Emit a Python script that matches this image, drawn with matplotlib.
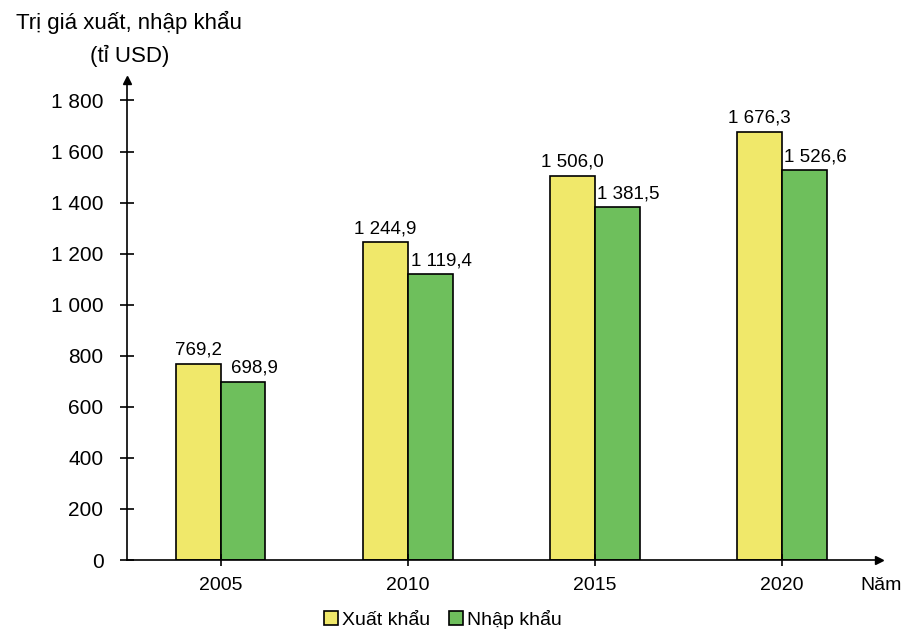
import numpy as np
import matplotlib
matplotlib.use('Agg')
import matplotlib.pyplot as plt

plt.rcParams['font.family'] = ['Liberation Sans', 'DejaVu Sans']

years = ['2005', '2010', '2015', '2020']
xuat_khau = [769.2, 1244.9, 1506.0, 1676.3]
nhap_khau = [698.9, 1119.4, 1381.5, 1526.6]
yticks = [0, 200, 400, 600, 800, 1000, 1200, 1400, 1600, 1800]


def fmt(v, dec=True):
    s = f'{v:,.1f}' if dec else f'{v:,.0f}'
    return s.replace(',', ' ').replace('.', ',')


fig = plt.figure(figsize=(9.04, 6.35), dpi=100)
ax = fig.add_axes([0.1405, 0.118, 0.832, 0.756])

x = np.arange(len(years))
w = 0.24
b1 = ax.bar(x - w / 2, xuat_khau, w, color='#F0E86A', edgecolor='black', linewidth=1.2, label='Xuất khẩu')
b2 = ax.bar(x + w / 2, nhap_khau, w, color='#6EBF5C', edgecolor='black', linewidth=1.2, label='Nhập khẩu')

for i in range(len(years)):
    ax.text(x[i] - w / 2, xuat_khau[i] + 20, fmt(xuat_khau[i]), ha='center', va='bottom', fontsize=13.5)
    ax.text(x[i] + w / 2 + 0.06, nhap_khau[i] + 20, fmt(nhap_khau[i]), ha='center', va='bottom', fontsize=13.5)

ax.set_xlim(-0.5, 3.52)
ax.set_ylim(0, 1880)
ax.set_yticks(yticks)
ax.set_yticklabels([fmt(v, False) for v in yticks], fontsize=15)
ax.set_xticks(x)
ax.set_xticklabels(years, fontsize=14)
ax.tick_params(axis='y', direction='inout', length=10, width=1.2, pad=12)
ax.tick_params(axis='x', direction='inout', length=8, width=1.2, pad=8)

for s in ['top', 'right']:
    ax.spines[s].set_visible(False)
ax.spines['left'].set_linewidth(1.2)
ax.spines['bottom'].set_linewidth(1.2)
ax.plot(1, 0, '>k', transform=ax.transAxes, clip_on=False, markersize=6)
ax.plot(0, 1, '^k', transform=ax.transAxes, clip_on=False, markersize=6)

fig.text(0.143, 0.965, 'Trị giá xuất, nhập khẩu', ha='center', va='center', fontsize=16)
fig.text(0.143, 0.912, '(tỉ USD)', ha='center', va='center', fontsize=16)
fig.text(0.975, 0.078, 'Năm', ha='center', va='center', fontsize=14)

fig.legend(handles=[b1, b2], loc='center', bbox_to_anchor=(0.49, 0.025), ncol=2, frameon=False,
           fontsize=14, handlelength=0.7, handleheight=0.7, handletextpad=0.2, columnspacing=1.0)

fig.savefig('out.png', dpi=100)
